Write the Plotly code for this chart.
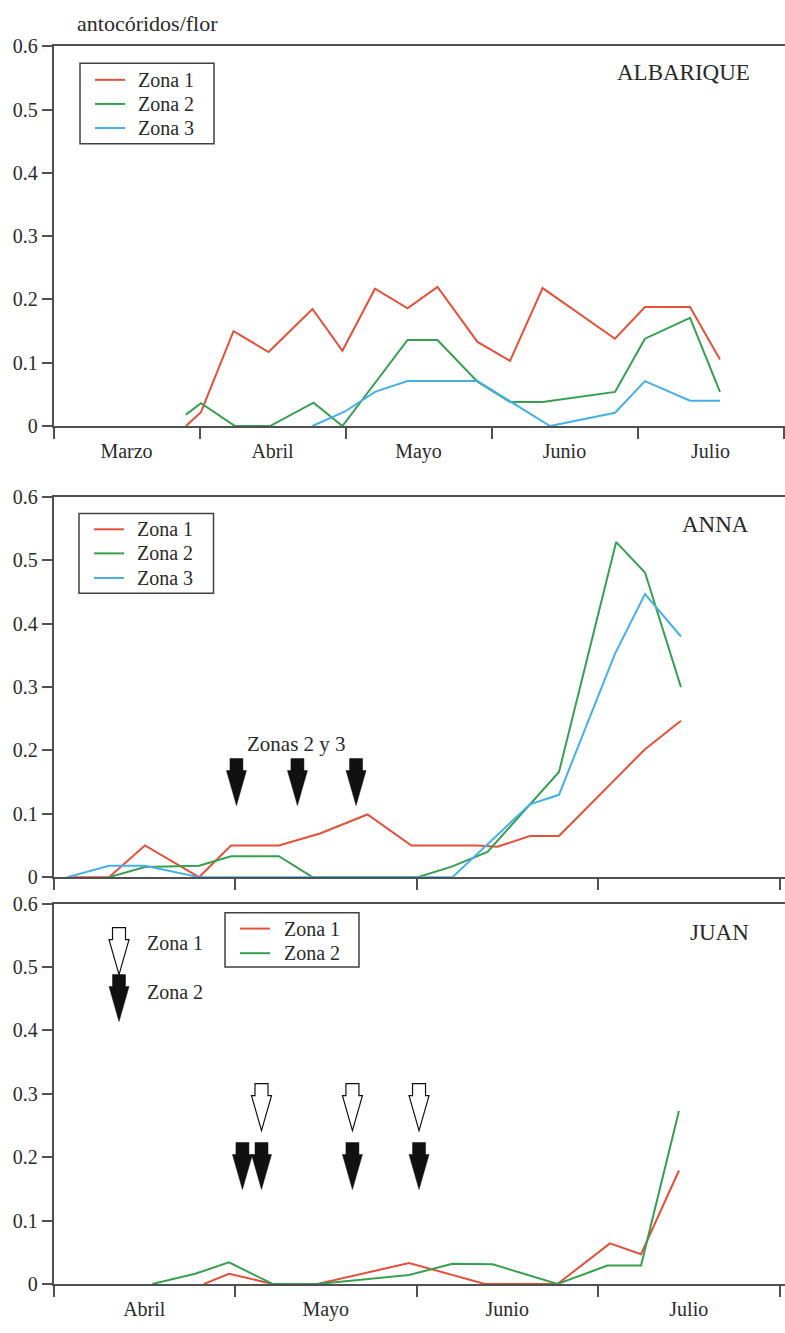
import plotly.graph_objects as go

W, H = 785, 1333

# ---------------- data (x = months since 1 March) ----------------
month_labels_top = ["Marzo", "Abril", "Mayo", "Junio", "Julio"]
month_labels_bot = ["Abril", "Mayo", "Junio", "Julio"]
zone_names = ["Zona 1", "Zona 2", "Zona 3"]

# ALBARIQUE
alb_z1_x = [0.907, 1.01, 1.233, 1.473, 1.774, 1.979, 2.202, 2.425, 2.630, 2.904, 3.127, 3.35, 3.846, 4.051, 4.360, 4.565]
alb_z1_y = [0.0, 0.022, 0.150, 0.117, 0.185, 0.119, 0.217, 0.186, 0.220, 0.133, 0.103, 0.218, 0.138, 0.188, 0.188, 0.105]
alb_z2_x = [0.907, 1.01, 1.243, 1.483, 1.781, 1.979, 2.425, 2.630, 2.904, 3.127, 3.35, 3.846, 4.051, 4.360, 4.565]
alb_z2_y = [0.018, 0.036, 0.0, 0.0, 0.037, 0.0, 0.136, 0.136, 0.070, 0.038, 0.038, 0.054, 0.138, 0.171, 0.054]
alb_z3_x = [1.774, 1.997, 2.202, 2.425, 2.904, 3.401, 3.846, 4.051, 4.360, 4.565]
alb_z3_y = [0.0, 0.023, 0.054, 0.071, 0.071, 0.0, 0.021, 0.071, 0.040, 0.040]

# ANNA
anna_z1_x = [1.077, 1.306, 1.504, 1.802, 1.978, 2.242, 2.468, 2.730, 2.972, 3.336, 3.446, 3.625, 3.785, 4.259, 4.457]
anna_z1_y = [0.0, 0.0, 0.050, 0.0, 0.050, 0.050, 0.069, 0.099, 0.050, 0.050, 0.048, 0.065, 0.065, 0.202, 0.247]
anna_z2_x = [1.306, 1.504, 1.802, 1.978, 2.242, 2.427, 3.006, 3.198, 3.391, 3.785, 4.100, 4.259, 4.457]
anna_z2_y = [0.0, 0.016, 0.018, 0.033, 0.033, 0.0, 0.0, 0.017, 0.040, 0.166, 0.529, 0.481, 0.300]
anna_z3_x = [1.077, 1.306, 1.504, 1.802, 3.198, 3.625, 3.785, 4.094, 4.259, 4.457]
anna_z3_y = [0.0, 0.018, 0.018, 0.0, 0.0, 0.115, 0.130, 0.353, 0.447, 0.380]
anna_arrow_x = [2.008, 2.344, 2.667]
anna_arrow_tip = 0.113

# JUAN
juan_z1_x = [1.829, 1.967, 2.207, 2.455, 2.959, 3.377, 3.777, 4.066, 4.237, 4.446]
juan_z1_y = [0.0, 0.016, 0.0, 0.0, 0.033, 0.0, 0.0, 0.064, 0.047, 0.179]
juan_z2_x = [1.545, 1.780, 1.967, 2.207, 2.455, 2.959, 3.198, 3.419, 3.777, 4.052, 4.237, 4.446]
juan_z2_y = [0.0, 0.016, 0.034, 0.0, 0.0, 0.014, 0.032, 0.031, 0.0, 0.029, 0.029, 0.273]
juan_white_x = [2.146, 2.647, 3.014]
juan_white_tip = 0.242
juan_black_x = [2.041, 2.146, 2.647, 3.014]
juan_black_tip = 0.149
key_arrow_x = 1.361
key_white_tip = 0.488
key_black_tip = 0.414

y_ticks = [0, 0.1, 0.2, 0.3, 0.4, 0.5, 0.6]
y_ticktext = ["0", "0.1", "0.2", "0.3", "0.4", "0.5", "0.6"]

# ---------------- style ----------------
RED, GREEN, BLUE = "#e5503a", "#36a050", "#46b0e6"
COLORS = [RED, GREEN, BLUE]
AX = "#505050"
TXT = "#2a2a2a"
FONT = "Liberation Serif, Times New Roman, serif"


def px_x(p):
    return p / W


def px_y(p):
    return 1 - p / H


fig = go.Figure()


def add(x, y, name, color, ax):
    fig.add_trace(go.Scatter(x=x, y=y, mode="lines", name=name,
                             line=dict(color=color, width=2),
                             xaxis=ax[0], yaxis=ax[1],
                             showlegend=False, cliponaxis=False))


add(alb_z1_x, alb_z1_y, zone_names[0], RED, ("x", "y"))
add(alb_z2_x, alb_z2_y, zone_names[1], GREEN, ("x", "y"))
add(alb_z3_x, alb_z3_y, zone_names[2], BLUE, ("x", "y"))
add(anna_z1_x, anna_z1_y, zone_names[0], RED, ("x2", "y2"))
add(anna_z2_x, anna_z2_y, zone_names[1], GREEN, ("x2", "y2"))
add(anna_z3_x, anna_z3_y, zone_names[2], BLUE, ("x2", "y2"))
add(juan_z1_x, juan_z1_y, zone_names[0], RED, ("x3", "y3"))
add(juan_z2_x, juan_z2_y, zone_names[1], GREEN, ("x3", "y3"))

x_left = px_x(53.5)
domains = {
    "y": [px_y(422), px_y(36)],
    "y2": [px_y(880.7), px_y(494.3)],
    "y3": [px_y(1294.3), px_y(907.7)],
}


def xaxis(rng, labels, start, anchor, show_labels=True):
    mids = [start + i + 0.5 for i in range(len(labels))]
    bounds = [start + i for i in range(len(labels) + 1)]
    return dict(domain=[x_left, 1], range=rng, anchor=anchor,
                showline=True, linecolor=AX, linewidth=1.5,
                mirror=True, showgrid=False, zeroline=False,
                tickmode="array", tickvals=mids, ticktext=labels,
                ticks="outside", ticklen=0, tickcolor=AX,
                ticklabelstandoff=6,
                showticklabels=show_labels,
                tickfont=dict(family=FONT, size=20, color=TXT),
                minor=dict(tickmode="array", tickvals=bounds, ticks="outside",
                           ticklen=11, tickwidth=1.5, tickcolor=AX))


def yaxis(dom, anchor):
    return dict(domain=dom, range=[0, 0.6], anchor=anchor, showline=True, linecolor=AX,
                linewidth=1.5, showgrid=False, zeroline=False,
                tickmode="array", tickvals=y_ticks, ticktext=y_ticktext,
                ticks="outside", ticklen=10, tickwidth=1.5, tickcolor=AX,
                tickfont=dict(family=FONT, size=20, color=TXT))


fig.update_layout(
    width=W, height=H, margin=dict(l=0, r=0, t=0, b=0),
    paper_bgcolor="white", plot_bgcolor="white",
    showlegend=False,
    xaxis=xaxis([0, (W - 53.5) / 146.0], month_labels_top, 0, "y"),
    yaxis=yaxis(domains["y"], "x"),
    xaxis2=xaxis([1, 1 + (W - 53.5) / 181.5], month_labels_bot, 1, "y2", False),
    yaxis2=yaxis(domains["y2"], "x2"),
    xaxis3=xaxis([1, 1 + (W - 53.5) / 181.5], month_labels_bot, 1, "y3"),
    yaxis3=yaxis(domains["y3"], "x3"),
)

# ---------------- legend boxes (drawn) ----------------
def legend_box(left, top, right, bottom, line_x0, text_x, rows, n):
    fig.add_shape(type="rect", xref="paper", yref="paper",
                  x0=px_x(left), x1=px_x(right), y0=px_y(bottom), y1=px_y(top),
                  line=dict(color="#404040", width=1.5), fillcolor="rgba(0,0,0,0)")
    for i in range(n):
        yy = rows[i]
        fig.add_shape(type="line", xref="paper", yref="paper",
                      x0=px_x(line_x0), x1=px_x(line_x0 + 30), y0=px_y(yy), y1=px_y(yy),
                      line=dict(color=COLORS[i], width=2))
        fig.add_annotation(text=zone_names[i], x=px_x(text_x), y=px_y(yy),
                           xref="paper", yref="paper", xanchor="left", yanchor="middle",
                           showarrow=False, font=dict(family=FONT, size=20, color=TXT))


legend_box(80, 53, 214, 135, 95, 136, [70, 94.5, 119], 3)
legend_box(79, 511, 213.5, 592, 94, 135, [527, 551.5, 576.5], 3)
legend_box(225, 917, 359, 972, 240, 282, [933, 958], 2)

annots = [
    ("antocóridos/flor", 75, 13, "left", 22),
    ("ALBARIQUE", 752, 63, "right", 23),
    ("ANNA", 751, 522, "right", 23),
    ("JUAN", 751, 937, "right", 23),
    ("Zonas 2 y 3", 296, 745, "center", 21),
    ("Zona 1", 145, 948, "left", 20),
    ("Zona 2", 145, 997, "left", 20),
]
for text, x, y, anch, size in annots:
    fig.add_annotation(text=text, x=px_x(x), y=px_y(y), xref="paper", yref="paper",
                       xanchor=anch, yanchor="middle", showarrow=False,
                       font=dict(family=FONT, size=size, color=TXT))

ARROW_PATH = "M 0 0 L -10 35 L -6.5 35 L -6.5 47 L 6.5 47 L 6.5 35 L 10 35 Z"


def arrow(x, tip, xr, yr, filled):
    fig.add_shape(type="path", path=ARROW_PATH, xref=xr, yref=yr,
                  xsizemode="pixel", ysizemode="pixel", xanchor=x, yanchor=tip,
                  fillcolor="#111111" if filled else "white",
                  line=dict(color="#111111", width=1.2 if not filled else 0.5))


for xv in anna_arrow_x:
    arrow(xv, anna_arrow_tip, "x2", "y2", True)
for xv in juan_white_x:
    arrow(xv, juan_white_tip, "x3", "y3", False)
for xv in juan_black_x:
    arrow(xv, juan_black_tip, "x3", "y3", True)
arrow(key_arrow_x, key_white_tip, "x3", "y3", False)
arrow(key_arrow_x, key_black_tip, "x3", "y3", True)

fig.write_html("out.html")
